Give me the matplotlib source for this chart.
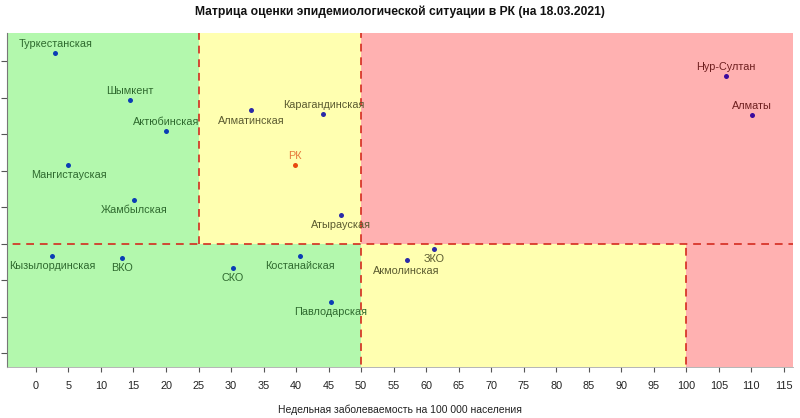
import matplotlib
matplotlib.use("Agg")
import matplotlib.pyplot as plt
from matplotlib.patches import Rectangle

plt.rcParams['font.family'] = ['Liberation Sans', 'DejaVu Sans']

# ---- data ----
names = ["Туркестанская", "Шымкент", "Актюбинская", "Мангистауская", "Жамбылская",
         "Кызылординская", "ВКО", "Алматинская", "Карагандинская", "РК",
         "Атырауская", "СКО", "Костанайская", "Павлодарская", "Акмолинская",
         "ЗКО", "Нур-Султан", "Алматы"]
incidence = [3.0, 14.4, 20.0, 5.0, 15.1,
             2.5, 13.2, 33.1, 44.2, 39.8,
             46.9, 30.3, 40.6, 45.3, 57.0,
             61.2, 106.1, 110.1]
growth = [1.524, 1.395, 1.310, 1.216, 1.120,
          0.968, 0.961, 1.366, 1.357, 1.216,
          1.079, 0.935, 0.968, 0.842, 0.955,
          0.986, 1.461, 1.353]
label_pos = ["above", "above", "above", "below", "below",
             "below", "below", "below", "above", "above",
             "below", "below", "below", "below", "below",
             "below", "above", "above"]
x_ticks = list(range(0, 120, 5))
y_ticks = [0.7, 0.8, 0.9, 1.0, 1.1, 1.2, 1.3, 1.4, 1.5]
x_thresholds = [25, 50, 100]
y_threshold = 1.0

title = "Матрица оценки эпидемиологической ситуации в РК (на 18.03.2021)"
xlabel = "Недельная заболеваемость на 100 000 населения"

# ---- styles ----
GREEN, YELLOW, RED = "#b3f8ad", "#ffffb0", "#ffb1b1"
XMIN, XMAX, YMIN, YMAX = -4.4, 116.4, 0.663, 1.578
BIG = 1000

fig = plt.figure(figsize=(8.0, 4.18), dpi=100)
ax = fig.add_axes([7.3 / 800, 1 - 367 / 418, (793 - 7.3) / 800, (367 - 33) / 418])

t1, t2, t3 = x_thresholds
yt = y_threshold
# upper half
ax.add_patch(Rectangle((-BIG, yt), BIG + t1, BIG, color=GREEN, lw=0))
ax.add_patch(Rectangle((t1, yt), t2 - t1, BIG, color=YELLOW, lw=0))
ax.add_patch(Rectangle((t2, yt), BIG, BIG, color=RED, lw=0))
# lower half
ax.add_patch(Rectangle((-BIG, -BIG), BIG + t2, BIG + yt, color=GREEN, lw=0))
ax.add_patch(Rectangle((t2, -BIG), t3 - t2, BIG + yt, color=YELLOW, lw=0))
ax.add_patch(Rectangle((t3, -BIG), BIG, BIG + yt, color=RED, lw=0))

dash = dict(color="#d42a1e", alpha=0.85, lw=1.4, ls=(0, (4, 3)))
ax.plot([-BIG, BIG], [yt, yt], **dash)
ax.plot([t1, t1], [yt, BIG], **dash)
ax.plot([t2, t2], [-BIG, BIG], **dash)
ax.plot([t3, t3], [-BIG, yt], **dash)


def zone(x, y):
    if x < t1 or (x < t2 and y < yt):
        return "g"
    if (x >= t2 and y >= yt) or x >= t3:
        return "r"
    return "y"


label_colors = {"g": "#2f6a2f", "y": "#5a5a30", "r": "#6e1f1f"}
dot_colors = {"g": "#0b3db5", "y": "#2a2aa8", "r": "#3a0a9e"}

for n, x, y, p in zip(names, incidence, growth, label_pos):
    z = zone(x, y)
    if n == "РК":
        dc, lc = "#e84a10", "#e57a3c"
    else:
        dc, lc = dot_colors[z], label_colors[z]
    ax.plot([x], [y], "o", ms=3.6, color=dc, mec="none", zorder=5)
    off = 6.6 if p == "above" else -7.4
    ax.annotate(n, (x, y), xytext=(0, off), textcoords="offset points",
                ha="center", va="center", fontsize=7.8, color=lc, zorder=6)

ax.set_xlim(XMIN, XMAX)
ax.set_ylim(YMIN, YMAX)
ax.set_xticks(x_ticks)
ax.set_xticklabels([str(v) for v in x_ticks])
ax.set_yticks(y_ticks)
ax.set_yticklabels([])
ax.tick_params(axis="x", length=3.5, width=0.8, color="#555555", pad=6.5,
               labelsize=7.8, labelcolor="#222222")
ax.tick_params(axis="y", length=4, width=0.8, color="#555555")
for s in ["top", "right"]:
    ax.spines[s].set_visible(False)
ax.spines["left"].set_color("#777777")
ax.spines["left"].set_linewidth(0.8)
ax.spines["bottom"].set_color("#aaaaaa")
ax.spines["bottom"].set_linewidth(0.6)

fig.text(0.5, 1 - 12 / 418, title, ha="center", va="center",
         fontsize=8.7, fontweight="bold", color="#111111")
fig.text(0.5, 1 - 410 / 418, xlabel, ha="center", va="center",
         fontsize=7.5, color="#222222")

fig.savefig("out.png", dpi=100)
